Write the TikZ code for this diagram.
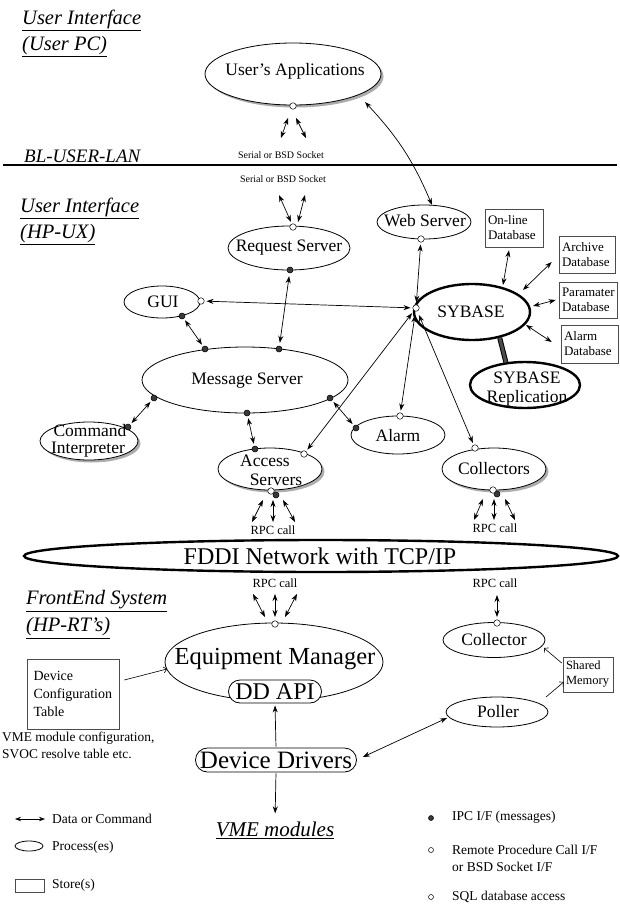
\documentclass[tikz,border=0pt]{standalone}
\usepackage{fontspec}
\setmainfont{Liberation Serif}
\usetikzlibrary{shapes.geometric,arrows.meta,shadows,calc}
\newcommand{\fsz}[2]{\fontsize{#1}{#2}\selectfont}
\begin{document}
\begin{tikzpicture}[x=1pt,y=-1pt,
  lbl/.style={font=\fsz{17.5}{19}, inner sep=0pt, align=center},
  big/.style={font=\fsz{24}{26}, inner sep=0pt},
  proc/.style={ellipse, draw, line width=0.8pt, fill=white, inner sep=0pt},
  tproc/.style={proc, line width=2.4pt},
  shad/.style={drop shadow={shadow xshift=2.5pt, shadow yshift=-2.5pt, fill=gray!65, opacity=1}},
  rbox/.style={draw, line width=0.8pt, fill=white, inner sep=0pt},
  idot/.style={circle, draw, line width=0.5pt, fill=gray!45!black, minimum size=6pt, inner sep=0pt},
  rdot/.style={circle, draw, line width=0.5pt, fill=white, minimum size=6.5pt, inner sep=0pt},
  store/.style={draw=black!70, line width=0.6pt, inner xsep=3pt, inner ysep=0pt, align=left, font=\fsz{13}{15}},
  dbl/.style={line width=0.7pt, {Stealth[length=7pt,width=5pt]}-{Stealth[length=7pt,width=5pt]}},
  sgl/.style={line width=0.7pt, -{Stealth[length=7pt,width=5pt]}},
  opn/.style={line width=0.6pt, -{Straight Barb[length=3pt,width=6pt]}},
  title/.style={font=\fsz{20.5}{24}\itshape, inner sep=0pt, anchor=west},
  small/.style={font=\fsz{10}{12}, inner sep=0pt},
  rpc/.style={font=\fsz{12.5}{14}, inner sep=0pt},
  leg/.style={font=\fsz{13.5}{16}, inner sep=0pt, anchor=west}]
\fill[white] (0,0) rectangle (620,905);
\useasboundingbox (0,0) rectangle (620,905);

% titles
\node[title] (t1) at (22,20) {\underline{User Interface}};
\node[title] (t2) at (22,47) {\underline{(User PC)}};
\node[title, font=\fsz{19}{22}\itshape] (t3) at (24,156) {BL-USER-LAN};
\node[title] (t4) at (20,208) {\underline{User Interface}};
\node[title] (t5) at (20,235) {\underline{(HP-UX)}};
\node[title] (t6) at (26,601) {\underline{FrontEnd System}};
\node[title] (t7) at (26,628) {\underline{(HP-RT's)}};

% LAN line
\coordinate (lanL) at (3,165);
\coordinate (lanR) at (617,165);
\draw[line width=2.5pt] (lanL) -- (lanR);

% processes
\node[proc, shad, minimum width=176, minimum height=62] (ua) at (293,74) {};
\node[lbl] (ua-t) at (295,71) {User's Applications};
\node[proc, minimum width=122, minimum height=44] (rs) at (289,248) {};
\node[lbl] (rs-t) at (289,248) {Request Server};
\node[proc, minimum width=94, minimum height=34] (ws) at (424,222) {};
\node[lbl] (ws-t) at (425,221) {Web Server};
\node[proc, minimum width=76, minimum height=32] (gui) at (162,302) {};
\node[lbl] (gui-t) at (163,302) {GUI};
\node[proc, minimum width=206, minimum height=66] (ms) at (245,380) {};
\node[lbl] (ms-t) at (247,381) {Message Server};
\node[proc, shad, minimum width=98, minimum height=38] (ci) at (89,441) {};
\node[lbl] (ci-t1) at (90,431) {Command};
\node[lbl] (ci-t2) at (88,450) {Interpreter};
\node[proc, minimum width=94, minimum height=38] (al) at (398,435) {};
\node[lbl] (al-t) at (398,436) {Alarm};
\node[proc, shad, minimum width=104, minimum height=42] (as) at (270,469) {};
\node[lbl] (as-t1) at (265,461) {Access};
\node[lbl] (as-t2) at (276,480) {Servers};
\node[proc, shad, minimum width=104, minimum height=42] (co) at (494,469) {};
\node[lbl] (co-t) at (494,469) {Collectors};
\node[tproc, minimum width=116, minimum height=56] (syb) at (472,312) {};
\node[lbl] (syb-t) at (471,312) {SYBASE};
\node[tproc, minimum width=110, minimum height=46] (rep) at (525,385) {};
\node[lbl, font=\fsz{17.5}{19.5}] (rep-t) at (527,389) {SYBASE\\Replication};
\draw[line width=5pt] (syb.-43) -- (rep.130);
\draw[line width=3pt, gray!60!black] (syb.-43) -- (rep.130);

% stores
\node[store, text width=52, minimum height=38] (online) at (514,228) {On-line\\Database};
\node[store, text width=50, minimum height=37] (archive) at (587,254.5) {Archive\\Database};
\node[store, text width=52, minimum height=36] (param) at (588,300) {Paramater\\Database};
\node[store, text width=51, minimum height=38] (alarmdb) at (589.5,344) {Alarm\\Database};

% FDDI
\node[tproc, minimum width=594, minimum height=32] (fddi) at (321,556) {};
\node[big] (fddi-t) at (320,556) {FDDI Network with TCP/IP};

% labels
\node[small] (ser1) at (281,155) {Serial or BSD Socket};
\node[small] (ser2) at (283,179) {Serial or BSD Socket};
\node[rpc] (rpc1) at (273,530) {RPC call};
\node[rpc] (rpc2) at (495,528) {RPC call};
\node[rpc] (rpc3) at (275,583) {RPC call};
\node[rpc] (rpc4) at (495,583) {RPC call};

% front end
\node[proc, minimum width=218, minimum height=78] (em) at (274,662) {};
\node[big, font=\fsz{24.5}{26}] (em-t) at (275,659) {Equipment Manager};
\node[rbox, rounded corners=11.5, minimum width=93, minimum height=23] (ddapi) at (275,691.5) {};
\node[big] (ddapi-t) at (275,692) {DD API};
\node[rbox, rounded corners=12, minimum width=161, minimum height=24] (drv) at (276,760) {};
\node[big, font=\fsz{25}{27}] (drv-t) at (276,760) {Device Drivers};
\node[font=\fsz{21}{24}\itshape, inner sep=0pt] (vme) at (275,830) {\underline{VME modules}};
\node[proc, minimum width=102, minimum height=35] (cl) at (494,640) {};
\node[lbl] (cl-t) at (494,640) {Collector};
\node[proc, minimum width=102, minimum height=30] (pol) at (497,712) {};
\node[lbl] (pol-t) at (498,712) {Poller};
\node[store, text width=44, minimum height=35, font=\fsz{12.5}{15}] (shm) at (588,674.5) {Shared\\Memory};
\node[store, text width=79, minimum height=70, font=\fsz{14}{18}, inner xsep=6.5pt] (dct) at (73,694) {Device\\Configuration\\Table};
\node[font=\fsz{13.4}{17}, inner sep=0pt, anchor=north west, align=left] (cap) at (2,732) {VME module configuration,\\SVOC resolve table etc.};

% interface dots
\node[rdot] (ua-d) at (293,106) {};
\node[rdot] (rs-d1) at (293,227) {};
\node[idot] (rs-d2) at (290,270) {};
\node[rdot] (ws-d) at (421,239) {};
\node[rdot] (gui-d1) at (201,301) {};
\node[idot] (gui-d2) at (182,316) {};
\node[idot] (ms-d1) at (205,349) {};
\node[idot] (ms-d2) at (279,349) {};
\node[idot] (ms-d3) at (154,398) {};
\node[idot] (ms-d4) at (247,413) {};
\node[idot] (ms-d5) at (330,398) {};
\node[idot] (ci-d) at (128,427) {};
\node[rdot] (al-d1) at (400,416) {};
\node[idot] (al-d2) at (356,428) {};
\node[idot] (as-d1) at (255,449) {};
\node[rdot] (as-d2) at (304,454) {};
\node[idot] (as-d4) at (276,495) {};
\node[rdot] (as-d3) at (271,491) {};
\node[rdot] (co-d1) at (475,448) {};
\node[idot] (co-d3) at (497,494) {};
\node[rdot] (co-d2) at (493,490) {};
\node[rdot] (syb-d) at (416,308) {};
\node[rdot] (em-d) at (275,624) {};
\node[rdot] (cl-d) at (497,623) {};

% connectors
\draw[dbl] ($(ua-d)+(-5,12)$) -- ($(ua-d)+(-12,32)$);
\draw[dbl] ($(ua-d)+(3,12)$) -- ($(ua-d)+(13,32)$);
\draw[dbl] ($(rs-d1)+(-14,-32)$) -- ($(rs-d1)+(-2,-5)$);
\draw[dbl] ($(rs-d1)+(12,-32)$) -- ($(rs-d1)+(5,-5)$);
\draw[dbl] ($(ua)+(72,28)$) to[bend left=10] ($(ws)+(8,-17)$);
\draw[dbl, shorten <=2pt, shorten >=2pt] (ws-d) -- (syb-d);
\draw[dbl, shorten <=2pt, shorten >=2pt] (gui-d1) -- (syb-d);
\draw[dbl, shorten <=2pt, shorten >=2pt] (gui-d2) -- (ms-d1);
\draw[dbl, shorten <=3pt, shorten >=3pt] (rs-d2) -- (ms-d2);
\draw[dbl, shorten <=2pt, shorten >=2pt] (ci-d) -- (ms-d3);
\draw[dbl, shorten <=2pt, shorten >=2pt] (ms-d4) -- (as-d1);
\draw[dbl, shorten <=2pt, shorten >=2pt] (ms-d5) -- (al-d2);
\draw[dbl, shorten <=3pt, shorten >=2pt] (syb-d) -- (as-d2);
\draw[dbl, shorten <=4pt, shorten >=2pt] (syb-d) -- (al-d1);
\draw[dbl, shorten <=4pt, shorten >=2pt] (syb-d) -- (co-d1);
\draw[dbl] ($(online.south)+(-5,3)$) -- ($(syb)+(31,-27)$);
\draw[dbl] ($(archive.west)+(-7,7.5)$) -- ($(syb)+(51,-22)$);
\draw[dbl] ($(param.west)+(-3,0)$) -- ($(syb)+(61,-6)$);
\draw[dbl] ($(alarmdb.west)+(-9,-2)$) -- ($(syb)+(54,13)$);
\draw[dbl] ($(as-d3)+(-8,9)$) -- ($(as-d3)+(-19,31)$);
\draw[dbl] ($(as-d3)+(2,9)$) -- ($(as-d3)+(2,31)$);
\draw[dbl] ($(as-d3)+(12,9)$) -- ($(as-d3)+(24,31)$);
\draw[dbl] ($(co-d2)+(-10,9)$) -- ($(co-d2)+(-19,30)$);
\draw[dbl] ($(co-d2)+(1,9)$) -- ($(co-d2)+(1,30)$);
\draw[dbl] ($(co-d2)+(12,9)$) -- ($(co-d2)+(22,30)$);
\draw[dbl] ($(em-d)+(-22,-30)$) -- ($(em-d)+(-10,-7)$);
\draw[dbl] ($(em-d)+(0,-30)$) -- ($(em-d)+(0,-7)$);
\draw[dbl] ($(em-d)+(22,-30)$) -- ($(em-d)+(10,-7)$);
\draw[dbl] ($(cl-d)+(0,-28)$) -- ($(cl-d)+(0,-6)$);
\draw[opn] ($(dct.east)+(5,-14)$) -- ($(em)+(-107,7)$);
\draw[sgl, shorten <=1pt, shorten >=2pt] (drv.north) -- (ddapi.south);
\draw[sgl, shorten <=1pt, shorten >=8pt] (drv.south) -- (vme.north);
\draw[dbl] ($(drv.east)+(6,-3)$) -- ($(pol)+(-50,6)$);
\draw[opn] ($(shm.west)+(-1,-11.5)$) -- ($(cl)+(50,8)$);
\draw[opn] ($(pol)+(49,-15)$) -- ($(shm.west)+(1,7.5)$);

% legend
\coordinate (lg1a) at (15,819);
\coordinate (lg1b) at (45,819);
\draw[line width=0.7pt, {Stealth[length=6pt,width=4.5pt]}-{Stealth[length=6pt,width=4.5pt]}] (lg1a) -- (lg1b);
\node[leg] (lg1) at (52,819) {Data or Command};
\node[proc, minimum width=28, minimum height=10] (lg2e) at (29,846) {};
\node[leg] (lg2) at (52,847) {Process(es)};
\node[draw=black!70, line width=0.6pt, minimum width=29, minimum height=13, inner sep=0pt] (lg3b) at (29.5,885.5) {};
\node[leg] (lg3) at (52,885) {Store(s)};
\node[idot, minimum size=5pt] (lg4d) at (431,818) {};
\node[leg] (lg4) at (452,817) {IPC I/F (messages)};
\node[rdot, minimum size=5pt] (lg5d) at (431,850) {};
\node[leg] (lg5) at (452,850) {Remote Procedure Call I/F};
\node[leg] (lg5b) at (452,867) {or BSD Socket I/F};
\node[rdot, minimum size=5pt] (lg6d) at (431,897) {};
\node[leg] (lg6) at (452,897) {SQL database access};
\end{tikzpicture}
\end{document}
